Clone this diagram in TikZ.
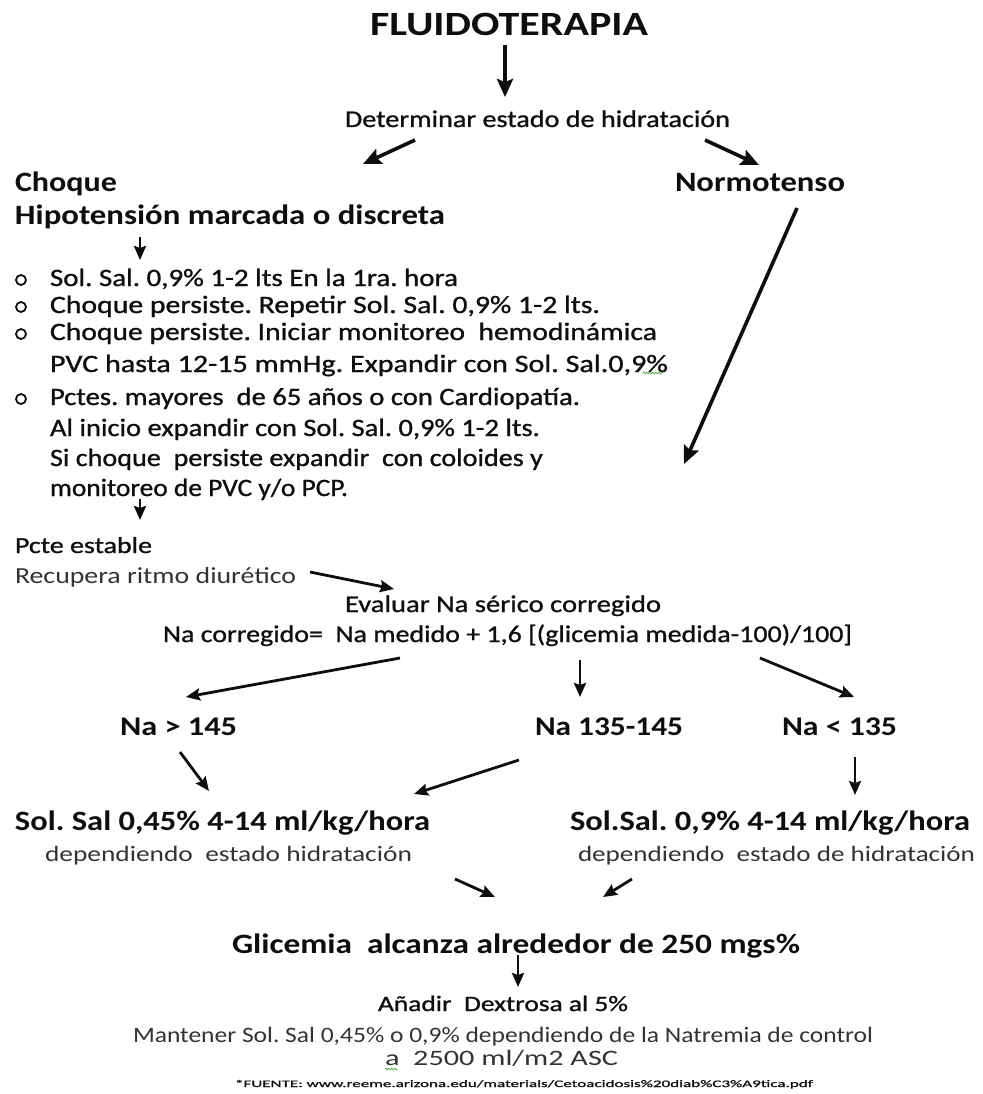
\documentclass[tikz,border=0pt]{standalone}
\usepackage{fontspec}
\setmainfont{Carlito}
\newfontfamily\medfont[FakeBold=0.9]{Carlito}
\usetikzlibrary{arrows.meta,decorations.pathmorphing}
\definecolor{ink}{HTML}{0E0E0E}
\definecolor{soft}{HTML}{333333}
\definecolor{spell}{HTML}{3DAA3D}
\frenchspacing
\newcommand\fitx[3]{\resizebox{#1pt}{\height}{\fontsize{#2pt}{#2pt}\selectfont #3}}
\tikzset{
  txt/.style={inner sep=0pt, outer sep=0pt, anchor=base west, text=soft},
  mtxt/.style={txt, text=ink, font=\medfont},
  btxt/.style={txt, text=ink, font=\bfseries},
  arr/.style={draw=ink, line width=3.6pt, -{Stealth[length=18pt,width=16pt,inset=3pt]}},
  sarr/.style={draw=ink, line width=2.8pt, -{Stealth[length=14pt,width=12pt,inset=2pt]}},
  bul/.style={draw=ink, line width=1.8pt},
  squig/.style={draw=spell, line width=0.6pt, decorate, decoration={zigzag, amplitude=1pt, segment length=3pt}}
}
\begin{document}
\begin{tikzpicture}[x=1pt,y=-1pt]
\useasboundingbox (0,0) rectangle (982,1094);
\fill[white] (0,0) rectangle (982,1094);

% texts
\node[btxt] (title) at (370,36) {\fitx{278}{34}{\bfseries FLUIDOTERAPIA}};
\node[mtxt] (det) at (345,127) {\fitx{385}{24}{Determinar estado de hidratación}};
\node[btxt] (choque) at (15,192) {\fitx{102}{28}{\bfseries Choque}};
\node[btxt] (hipo) at (15,224) {\fitx{430}{28}{\bfseries Hipotensión marcada o discreta}};
\node[btxt] (normo) at (675,192) {\fitx{170}{28}{\bfseries Normotenso}};

\node[bul, circle, inner sep=0pt, minimum size=10pt] (o1) at (21,280) {};
\node[bul, circle, inner sep=0pt, minimum size=10pt] (o2) at (21,307) {};
\node[bul, circle, inner sep=0pt, minimum size=10pt] (o3) at (21,334) {};
\node[bul, circle, inner sep=0pt, minimum size=10pt] (o5) at (21,399) {};

\node[mtxt] (b1) at (50,286) {\fitx{408}{25}{Sol. Sal. 0,9\% 1-2 lts En la 1ra. hora}};
\node[mtxt] (b2) at (50,313) {\fitx{550}{25}{Choque persiste. Repetir Sol. Sal. 0,9\% 1-2 lts.}};
\node[mtxt] (b3) at (50,340) {\fitx{607}{25}{Choque persiste. Iniciar monitoreo \ hemodinámica}};
\node[mtxt] (b4) at (50,372) {\fitx{618}{25}{PVC hasta 12-15 mmHg. Expandir con Sol. Sal.0,9\%}};
\node[mtxt] (b5) at (50,405) {\fitx{530}{25}{Pctes. mayores \ de 65 años o con Cardiopatía.}};
\node[mtxt] (b6) at (50,436) {\fitx{490}{25}{Al inicio expandir con Sol. Sal. 0,9\% 1-2 lts.}};
\node[mtxt] (b7) at (50,466) {\fitx{493}{25}{Si choque \ persiste expandir \ con coloides y}};
\node[mtxt] (b8) at (50,496) {\fitx{298}{25}{monitoreo de PVC y/o PCP.}};

\node[mtxt] (pcte) at (15,553) {\fitx{137}{23}{Pcte estable}};
\node[txt] (recup) at (15,583) {\fitx{281}{23}{Recupera ritmo diurético}};
\node[mtxt] (eval) at (345,612) {\fitx{316}{24}{Evaluar Na sérico corregido}};
\node[mtxt] (nacorr) at (163,642) {\fitx{689}{24}{Na corregido= \ Na medido + 1,6 [(glicemia medida-100)/100]}};

\node[btxt] (na1) at (120,735) {\fitx{117}{27}{\bfseries Na > 145}};
\node[btxt] (na2) at (535,735) {\fitx{148}{27}{\bfseries Na 135-145}};
\node[btxt] (na3) at (782,735) {\fitx{115}{27}{\bfseries Na < 135}};

\node[btxt] (sol1) at (15,830) {\fitx{415}{28}{\bfseries Sol. Sal 0,45\% 4-14 ml/kg/hora}};
\node[txt] (dep1) at (45,861) {\fitx{367}{22}{dependiendo \ estado hidratación}};
\node[btxt] (sol2) at (570,830) {\fitx{400}{28}{\bfseries Sol.Sal. 0,9\% 4-14 ml/kg/hora}};
\node[txt] (dep2) at (578,861) {\fitx{397}{22}{dependiendo \ estado de hidratación}};

\node[btxt] (glic) at (232,953) {\fitx{568}{28}{\bfseries Glicemia \ alcanza alrededor de 250 mgs\%}};
\node[mtxt] (anadir) at (378,1011) {\fitx{250}{22}{Añadir \ Dextrosa al 5\%}};
\node[txt] (mant) at (133,1042) {\fitx{740}{22}{Mantener Sol. Sal 0,45\% o 0,9\% dependiendo de la Natremia de control}};
\node[txt] (a2500) at (385,1065) {\fitx{233}{22}{a \ 2500 ml/m2 ASC}};
\node[mtxt] (fuente) at (235,1087) {\fitx{578}{10}{*FUENTE: www.reeme.arizona.edu/materials/Cetoacidosis\%20diab\%C3\%A9tica.pdf}};

% spell-check marks
\coordinate (sq1a) at (643,373); \coordinate (sq1b) at (662,373);
\draw[squig] (sq1a) -- (sq1b);
\coordinate (sq2a) at (385,1069); \coordinate (sq2b) at (397,1069);
\draw[squig] (sq2a) -- (sq2b);

% arrow end points
\coordinate (a1s) at (505,45);  \coordinate (a1e) at (505,97);
\coordinate (a2s) at (415,140); \coordinate (a2e) at (363,164);
\coordinate (a3s) at (705,140); \coordinate (a3e) at (759,165);
\coordinate (a4s) at (140,237); \coordinate (a4e) at (140,260);
\coordinate (a5s) at (797,208); \coordinate (a5e) at (684,464);
\coordinate (a6s) at (140,499); \coordinate (a6e) at (140,520);
\coordinate (a7s) at (310,572); \coordinate (a7e) at (394,589);
\coordinate (a8s) at (400,658); \coordinate (a8e) at (186,697);
\coordinate (a9s) at (580,660); \coordinate (a9e) at (580,697);
\coordinate (a10s) at (760,658); \coordinate (a10e) at (854,697);
\coordinate (a11s) at (180,752); \coordinate (a11e) at (209,791);
\coordinate (a12s) at (519,760); \coordinate (a12e) at (414,794);
\coordinate (a13s) at (855,757); \coordinate (a13e) at (855,795);
\coordinate (a14s) at (455,879); \coordinate (a14e) at (495,897);
\coordinate (a15s) at (632,879); \coordinate (a15e) at (603,897);
\coordinate (a16s) at (518,955); \coordinate (a16e) at (518,987);

\draw[arr] (a1s) -- (a1e);
\draw[arr] (a2s) -- (a2e);
\draw[arr] (a3s) -- (a3e);
\draw[sarr] (a4s) -- (a4e);
\draw[arr] (a5s) -- (a5e);
\draw[sarr] (a6s) -- (a6e);
\draw[sarr] (a7s) -- (a7e);
\draw[sarr] (a8s) -- (a8e);
\draw[sarr] (a9s) -- (a9e);
\draw[sarr] (a10s) -- (a10e);
\draw[sarr] (a11s) -- (a11e);
\draw[sarr] (a12s) -- (a12e);
\draw[sarr] (a13s) -- (a13e);
\draw[sarr] (a14s) -- (a14e);
\draw[sarr] (a15s) -- (a15e);
\draw[sarr] (a16s) -- (a16e);
\end{tikzpicture}
\end{document}
